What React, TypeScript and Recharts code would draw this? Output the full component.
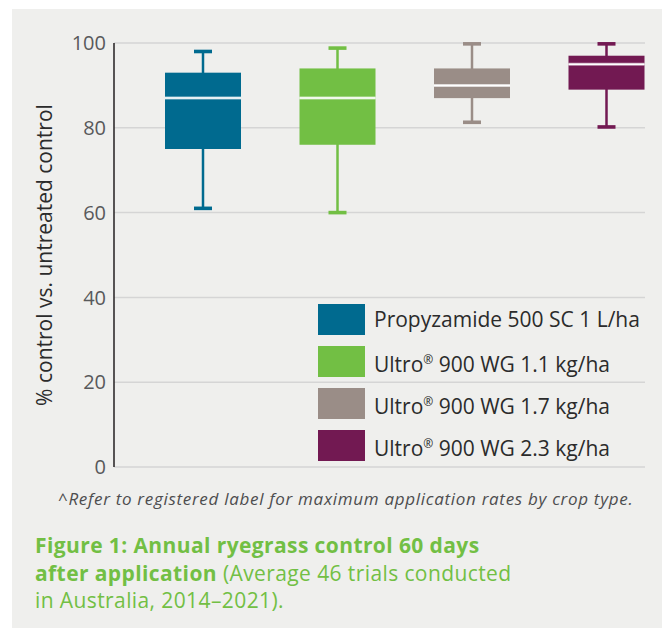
import React from 'react';
import { ComposedChart, Bar, XAxis, YAxis, CartesianGrid } from 'recharts';

const TREATMENTS = ['Propyzamide 500 SC 1 L/ha', 'Ultro 900 WG 1.1 kg/ha', 'Ultro 900 WG 1.7 kg/ha', 'Ultro 900 WG 2.3 kg/ha'];
const COLORS = ['#006a8f', '#72bf44', '#9a8d87', '#721952'];
const MIN = [61, 60, 81.3, 80.2];
const Q1 = [75, 76, 87, 89];
const MEDIAN = [87, 87, 90, 95];
const Q3 = [93, 94, 94, 97];
const MAX = [98, 98.8, 99.8, 99.8];
const Y_TICKS = [0, 20, 40, 60, 80, 100];

const data = TREATMENTS.map((name, i) => ({
    name,
    min: MIN[i],
    q1: Q1[i],
    median: MEDIAN[i],
    q3: Q3[i],
    max: MAX[i],
}));

const FONT = '"Open Sans", Lato, sans-serif';
const GREEN = '#72bf44';

// one range bar per treatment (min..max), the box and whiskers are drawn from its geometry
const BoxShape: React.FC<any> = ({ x, y, width, height, payload, index }) => {
    const top = Math.min(y, y + height);
    const h = Math.abs(height);
    const k = h / (payload.max - payload.min);
    const py = (v: number) => top + (payload.max - v) * k;
    const cx = x + width / 2;
    const color = COLORS[index];
    return (
        <g>
            <line x1={cx} x2={cx} y1={py(payload.max)} y2={py(payload.min)} stroke={color} strokeWidth={2.5} />
            <rect x={cx - 9} y={py(payload.max) - 1.8} width={18} height={3.6} fill={color} />
            <rect x={cx - 9} y={py(payload.min) - 1.8} width={18} height={3.6} fill={color} />
            <rect x={x} y={py(payload.q3)} width={width} height={py(payload.q1) - py(payload.q3)} fill={color} />
            <line x1={x} x2={x + width} y1={py(payload.median)} y2={py(payload.median)} stroke="#ffffff" strokeOpacity={0.6} strokeWidth={3} />
            <line x1={x} x2={x + width} y1={py(payload.median)} y2={py(payload.median)} stroke="#ffffff" strokeWidth={1.5} />
        </g>
    );
};

const LegendLabel: React.FC<{ text: string }> = ({ text }) => {
    if (text.startsWith('Ultro')) {
        return (
            <span>
                Ultro<sup style={{ fontSize: 12, verticalAlign: 8 }}>®</sup>{text.slice(5)}
            </span>
        );
    }
    return <span>{text}</span>;
};

const App: React.FC = () => {
    return (
        <div style={{ position: 'relative', left: 4, top: 1, width: 658, height: 620, background: '#efefed', fontFamily: FONT }}>
            <div style={{ position: 'absolute', left: 0, top: 0 }}>
                <ComposedChart
                    width={658}
                    height={480}
                    data={data}
                    margin={{ top: 34, right: 25, left: 0, bottom: 22 }}
                >
                    <CartesianGrid vertical={false} stroke="#d5d5d5" strokeWidth={1.5} />
                    <XAxis dataKey="name" hide padding={{ left: 22, right: -29 }} />
                    <YAxis
                        width={102}
                        domain={[0, 100]}
                        ticks={Y_TICKS}
                        interval={0}
                        tickLine={false}
                        axisLine={{ stroke: '#231f20', strokeWidth: 1.5 }}
                        tick={{ fill: '#58595b', fontSize: 20, fontFamily: FONT }}
                        label={{
                            value: '% control vs. untreated control',
                            angle: -90,
                            position: 'center',
                            dx: -18,
                            style: { fill: '#2b2b2b', fontSize: 21, fontFamily: FONT, textAnchor: 'middle' },
                        }}
                    />
                    <Bar
                        dataKey={(d: any) => [d.min, d.max]}
                        barSize={76}
                        shape={<BoxShape />}
                        isAnimationActive={false}
                    />
                </ComposedChart>
            </div>
            <div style={{ position: 'absolute', left: 306, top: 295 }}>
                {TREATMENTS.map((t, i) => (
                    <div key={t} style={{ display: 'flex', alignItems: 'center', height: 31, marginBottom: 11 }}>
                        <div style={{ width: 47, height: 31, background: COLORS[i], marginRight: 9 }} />
                        <div style={{ fontSize: 21, color: '#2b2b2b', lineHeight: '31px', whiteSpace: 'nowrap' }}>
                            <LegendLabel text={t} />
                        </div>
                    </div>
                ))}
            </div>
            <div
                style={{
                    position: 'absolute',
                    left: 46,
                    top: 478,
                    fontSize: 17,
                    letterSpacing: 0.7,
                    fontStyle: 'italic',
                    color: '#4d4d4f',
                    whiteSpace: 'nowrap',
                }}
            >
                ^Refer to registered label for maximum application rates by crop type.
            </div>
            <div
                style={{
                    position: 'absolute',
                    left: 23,
                    top: 523,
                    fontSize: 21,
                    letterSpacing: 0.4,
                    lineHeight: '27.5px',
                    color: GREEN,
                    width: 540,
                    whiteSpace: 'nowrap',
                }}
            >
                <span style={{ fontWeight: 700 }}>Figure 1: Annual ryegrass control 60 days</span>
                <br />
                <span style={{ fontWeight: 700 }}>after application</span> (Average 46 trials conducted
                <br />
                in Australia, 2014–2021).
            </div>
        </div>
    );
};

export default App;
